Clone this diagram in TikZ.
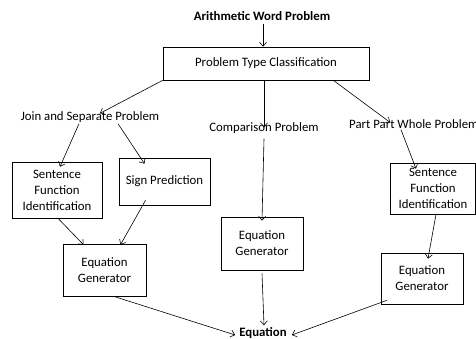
\documentclass[tikz,border=0pt]{standalone}
\usepackage{fontspec}
\setmainfont{Carlito}
\usetikzlibrary{arrows.meta}
\begin{document}
\begin{tikzpicture}[x=1pt,y=-1pt,
  box/.style={draw,semithick,align=center,inner sep=1pt,font=\fontsize{12.8}{16}\selectfont},
  lbl/.style={inner sep=1pt,font=\fontsize{12.8}{15}\selectfont},
  arr/.style={-{Straight Barb[length=4pt,width=7pt]},semithick}]
\useasboundingbox (0,0) rectangle (476,339);
\node[lbl,font=\bfseries\fontsize{12.8}{15}\selectfont] (title) at (262,16) {Arithmetic Word Problem};
\node[box,minimum width=206pt,minimum height=33pt] (ptc) at (266,63.5) {Problem Type Classification};
\node[lbl] (join) at (90,117) {Join and Separate Problem};
\node[lbl] (comp) at (264,128) {Comparison Problem};
\node[lbl,anchor=west] (part) at (348,124) {Part Part Whole Problem};
\node[box,minimum width=90pt,minimum height=56pt] (sfiL) at (57,190) {Sentence\\Function\\Identification};
\node[box,minimum width=91pt,minimum height=47pt] (sp) at (164.5,181.5) {Sign Prediction};
\node[box,minimum width=85pt,minimum height=51pt] (sfiR) at (433,188.5) {Sentence\\Function\\Identification};
\node[box,minimum width=82pt,minimum height=53pt] (egM) at (262,243.5) {Equation\\Generator};
\node[box,minimum width=83pt,minimum height=52pt] (egL) at (104.5,270) {Equation\\Generator};
\node[box,minimum width=82pt,minimum height=51pt] (egR) at (422,278.5) {Equation\\Generator};
\node[lbl,font=\bfseries\fontsize{12.8}{15}\selectfont] (eq) at (263,333) {Equation};
\coordinate (c1) at (263,24);
\coordinate (c2) at (264,80);
\draw[arr] (c1) -- (c1 |- ptc.north);
\draw[arr] (ptc.south west) -- ([xshift=10pt,yshift=-3pt]join.north);
\draw[arr] (c2) -- ([yshift=-6pt]comp.north);
\draw[arr] ([xshift=-36pt]ptc.south east) -- ([xshift=42pt,yshift=-4pt]part.north west);
\draw[arr] ([xshift=-11pt]join.south) -- ([xshift=3pt,yshift=-5pt]sfiL.north);
\draw[arr] ([xshift=28pt]join.south) -- ([xshift=-20pt,yshift=-6pt]sp.north);
\draw[arr] ([yshift=-4pt]comp.south) -- ([yshift=-4pt]egM.north);
\draw[arr] ([xshift=53pt]part.south west) -- ([xshift=-17pt,yshift=-6pt]sfiR.north);
\draw[arr] ([xshift=1pt]sfiL.south) -- ([xshift=-21pt,yshift=-1pt]egL.north);
\draw[arr] ([xshift=-19pt,yshift=5pt]sp.south) -- ([xshift=16pt,yshift=-1pt]egL.north);
\draw[arr] ([xshift=3pt]sfiR.south) -- ([xshift=6pt,yshift=-6pt]egR.north);
\draw[arr] ([yshift=-3pt]egM.south) -- ([xshift=1pt,yshift=1pt]eq.north);
\draw[arr] ([xshift=9pt]egL.south) -- ([xshift=-3pt,yshift=-2pt]eq.west);
\draw[arr] ([xshift=-35pt,yshift=4pt]egR.south) -- ([xshift=4pt,yshift=-2pt]eq.east);
\end{tikzpicture}
\end{document}
